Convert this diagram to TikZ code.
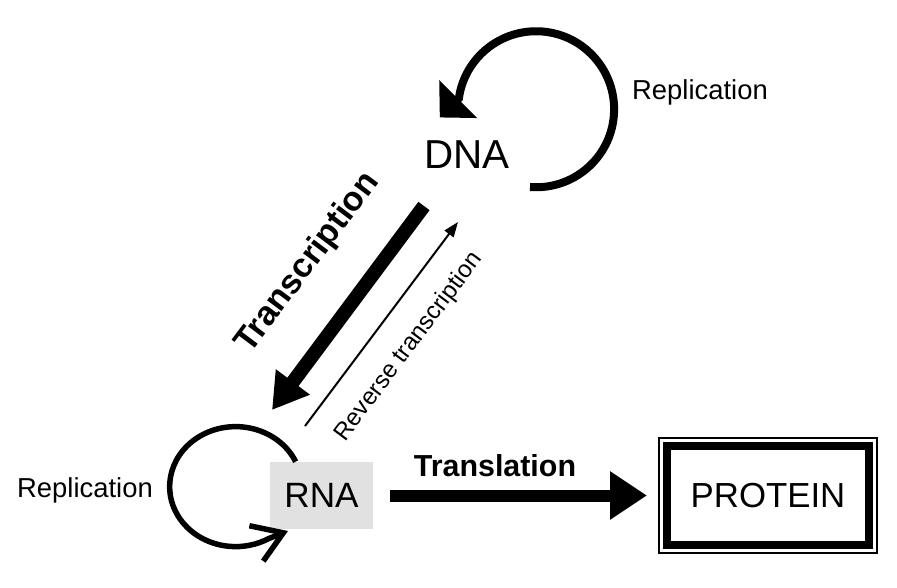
\documentclass[tikz,border=0pt]{standalone}
\usepackage{fontspec}
\setmainfont{Liberation Sans}
\usetikzlibrary{arrows.meta}
\definecolor{rnagray}{HTML}{E1E1E1}
\tikzset{
  label/.style={font=\fontsize{15.6}{18}\selectfont, inner sep=0pt},
  molecule/.style={inner sep=0pt},
  loop/.style={line cap=butt},
}
\begin{document}
\begin{tikzpicture}[x=0.02cm, y=0.02cm]
\useasboundingbox (0,0) rectangle (897,-588);
\node[molecule, font=\fontsize{23}{26}\selectfont] (dna) at (467,-155) {DNA};
\node[molecule, fill=rnagray, minimum width=2.06cm, minimum height=1.34cm, font=\fontsize{20}{24}\selectfont] (rna) at (321.5,-495.5) {RNA};
\node[molecule, draw, line width=0.16cm, minimum width=4.04cm, minimum height=1.98cm, font=\fontsize{19.8}{24}\selectfont] (protein) at (768,-495.5) {PROTEIN};
\draw[line width=0.03cm] ([xshift=-0.08cm, yshift=0.08cm]protein.north west) rectangle ([xshift=0.08cm, yshift=-0.08cm]protein.south east);
\node[label] (repdna) at (700,-92) {Replication};
\node[label] (reprna) at (85,-490) {Replication};
\draw[loop, line width=0.16cm, -{Triangle[length=0.52cm, width=1.04cm]}] (530,-187) arc[start angle=-94.5, end angle=172, radius=78] -- ++(225:27);
\coordinate (rnatip) at (288,-531);
\draw[loop, line width=0.11cm, -{Straight Barb[length=0.58cm, width=0.76cm]}] ([xshift=0.52cm]rna.north west) arc[start angle=24.6, end angle=300, x radius=66, y radius=60] -- (rnatip);
\coordinate (tcstart) at (424,-206);
\coordinate (tcend) at (272,-410);
\draw[line width=0.28cm, -{Triangle[length=0.7cm, width=0.8cm]}] (tcstart) -- (tcend);
\node[font=\bfseries\fontsize{19.4}{22}\selectfont, rotate=53.1, inner sep=0pt] (tclabel) at (308,-263) {Transcription};
\coordinate (rtstart) at (305,-426);
\coordinate (rtend) at (458,-222);
\draw[line width=0.04cm, -{Triangle[length=0.3cm, width=0.22cm]}] (rtstart) -- (rtend);
\node[font=\fontsize{13.8}{16}\selectfont, rotate=53.1, inner sep=0pt] (rtlabel) at (409,-347) {Reverse transcription};
\draw[line width=0.24cm, shorten <=0.34cm, shorten >=0.32cm, -{Triangle[length=0.74cm, width=0.92cm]}] (rna.east) -- (protein.west);
\node[font=\bfseries\fontsize{17.3}{20}\selectfont, inner sep=0pt] (tllabel) at (495,-466) {Translation};
\end{tikzpicture}
\end{document}
